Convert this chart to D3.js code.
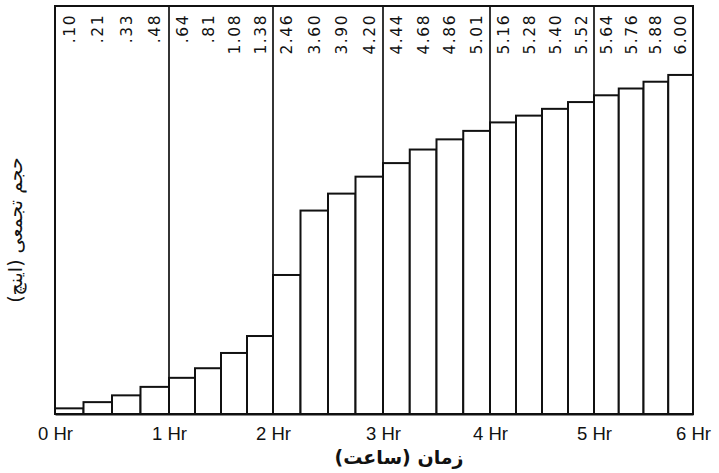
<!DOCTYPE html>
<html>
<head>
<meta charset="utf-8">
<script src="https://cdn.jsdelivr.net/npm/d3@7"></script>
<style>
  html, body { margin: 0; padding: 0; background: #fff; }
  svg { display: block; }
</style>
</head>
<body>
<div id="chart"></div>
<script>
// ---- data ----
const intervals = d3.range(24).map(i => i * 0.25);   // start hour of each 15-min interval
const cumulative = [0.10, 0.21, 0.33, 0.48, 0.64, 0.81, 1.08, 1.38,
                    2.46, 3.60, 3.90, 4.20, 4.44, 4.68, 4.86, 5.01,
                    5.16, 5.28, 5.40, 5.52, 5.64, 5.76, 5.88, 6.00];
const valueLabels = [".10", ".21", ".33", ".48", ".64", ".81", "1.08", "1.38",
                     "2.46", "3.60", "3.90", "4.20", "4.44", "4.68", "4.86", "5.01",
                     "5.16", "5.28", "5.40", "5.52", "5.64", "5.76", "5.88", "6.00"];
const hourTicks = [0, 1, 2, 3, 4, 5, 6];
const xTitle = "زمان (ساعت)";
const yTitle = "حجم تجمعی (اینچ)";

// ---- layout ----
const W = 719, H = 473;
const ink = "#111";
const plotTop = 6, baseline = 414;
// hour positions as measured on the (slightly uneven) original drawing
const hourPx = [55, 169, 273, 383, 490, 594, 693];

const svg = d3.select("#chart").append("svg").attr("width", W).attr("height", H);

const x = d3.scaleLinear().domain(hourTicks).range(hourPx);
const y = d3.scaleLinear().domain([0, 7.22]).range([baseline, plotTop]);

// bars
svg.append("g").selectAll("rect").data(cumulative).join("rect")
  .attr("x", (d, i) => x(intervals[i]))
  .attr("width", (d, i) => x(intervals[i] + 0.25) - x(intervals[i]))
  .attr("y", d => y(d))
  .attr("height", d => y(0) - y(d))
  .attr("fill", "#fff")
  .attr("stroke", ink)
  .attr("stroke-width", 2);

// hour dividers
svg.append("g").selectAll("line").data(hourTicks.slice(1, -1)).join("line")
  .attr("x1", d => x(d)).attr("x2", d => x(d))
  .attr("y1", y(7.22)).attr("y2", y(0))
  .attr("stroke", ink).attr("stroke-width", 1.7);

// frame
svg.append("path")
  .attr("d", `M${x(0)},${y(0)}V${y(7.22)}H${x(6)}V${y(0)}`)
  .attr("fill", "none").attr("stroke", ink).attr("stroke-width", 2);

// value labels at top
svg.append("g").selectAll("text").data(valueLabels).join("text")
  .attr("transform", (d, i) => `translate(${x(intervals[i] + 0.125)},${plotTop + 8}) rotate(-90)`)
  .attr("text-anchor", "end")
  .attr("dy", "0.36em")
  .attr("font-family", "'DejaVu Sans', sans-serif")
  .attr("font-size", 15.5)
  .attr("letter-spacing", 1.5)
  .attr("fill", ink)
  .text(d => d);

// x axis
const xAxis = svg.append("g")
  .attr("transform", `translate(0,${y(0)})`)
  .call(d3.axisBottom(x).tickValues(hourTicks).tickSize(0).tickPadding(13).tickFormat(d => d + " Hr"));
xAxis.select(".domain").attr("stroke", ink).attr("stroke-width", 2);
xAxis.selectAll("text")
  .attr("font-family", "'Liberation Sans', Arial, sans-serif")
  .attr("font-size", 18.5)
  .attr("fill", ink);

// axis titles
svg.append("text")
  .attr("x", 399).attr("y", 464)
  .attr("text-anchor", "middle")
  .attr("font-family", "'DejaVu Sans', sans-serif")
  .attr("font-weight", "bold")
  .attr("font-size", 19)
  .attr("fill", ink)
  .attr("direction", "rtl")
  .text(xTitle);

svg.append("text")
  .attr("transform", `translate(22,230) rotate(-90)`)
  .attr("text-anchor", "middle")
  .attr("font-family", "'DejaVu Sans', sans-serif")
  .attr("font-size", 19)
  .attr("fill", ink)
  .attr("direction", "rtl")
  .text(yTitle);
</script>
</body>
</html>
